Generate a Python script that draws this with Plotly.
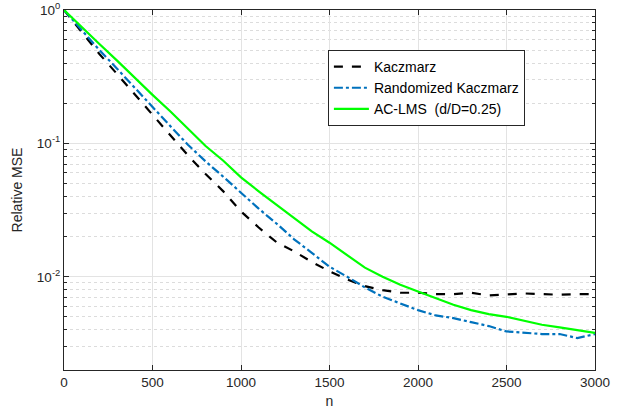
import plotly.graph_objects as go

n = [0, 100, 200, 300, 400, 500, 600, 700, 800, 900, 1000, 1100, 1200, 1300, 1400,
     1500, 1600, 1700, 1800, 1900, 2000, 2100, 2200, 2300, 2400, 2500, 2600, 2700,
     2800, 2900, 3000]

kaczmarz = [1.0, 0.684, 0.468, 0.331, 0.232, 0.163, 0.115, 0.0813, 0.0589, 0.0437,
            0.0309, 0.0234, 0.0182, 0.0155, 0.0129, 0.0110, 0.00955, 0.00851, 0.00794,
            0.00759, 0.00759, 0.00741, 0.00741, 0.00759, 0.00724, 0.00733, 0.00750,
            0.00741, 0.00733, 0.00741, 0.00741]

randomized = [1.0, 0.708, 0.501, 0.363, 0.260, 0.187, 0.135, 0.0977, 0.0733, 0.0562,
              0.0427, 0.0324, 0.0251, 0.0191, 0.0151, 0.0119, 0.0100, 0.00832, 0.00708,
              0.00631, 0.00562, 0.00513, 0.00490, 0.00457, 0.00427, 0.00389, 0.00380,
              0.00372, 0.00372, 0.00347, 0.00372]

aclms = [1.0, 0.741, 0.556, 0.417, 0.309, 0.231, 0.174, 0.129, 0.0955, 0.0741, 0.0556,
         0.0437, 0.0347, 0.0272, 0.0219, 0.0180, 0.0145, 0.0117, 0.0100, 0.0087,
         0.00776, 0.00692, 0.00617, 0.00562, 0.00525, 0.00501, 0.00468, 0.00437,
         0.00417, 0.00398, 0.00380]

x_ticks = [0, 500, 1000, 1500, 2000, 2500, 3000]
y_ticks = [1, 0.1, 0.01]
y_tick_text = ["10<sup>0</sup>", "10<sup>-1</sup>", "10<sup>-2</sup>"]
y_minor = [m * 10 ** e for e in (-3, -2, -1) for m in range(2, 10)]

FONT = "Liberation Sans, Arial, sans-serif"

fig = go.Figure()
fig.add_trace(go.Scatter(x=n, y=kaczmarz, mode="lines", name="Kaczmarz",
                         line=dict(color="black", width=2.2, dash="dash")))
fig.add_trace(go.Scatter(x=n, y=randomized, mode="lines", name="Randomized Kaczmarz",
                         line=dict(color="#0072BD", width=2.2, dash="dashdot")))
fig.add_trace(go.Scatter(x=n, y=aclms, mode="lines", name="AC-LMS\u00a0\u00a0(d/D=0.25)",
                         line=dict(color="#00FF00", width=2.2)))

axis_common = dict(showline=True, linecolor="#262626", linewidth=1, mirror="ticks",
                   ticks="inside", tickcolor="#262626", ticklen=5, zeroline=False,
                   automargin=False,
                   tickfont=dict(family=FONT, size=13.5, color="#262626"),
                   gridcolor="#e3e3e3", gridwidth=1)

fig.update_xaxes(range=[0, 3000], tickvals=x_ticks,
                 title=dict(text="n", font=dict(family=FONT, size=14, color="#262626"), standoff=6),
                 **axis_common)
fig.update_yaxes(type="log", range=[-2.699, 0], tickvals=y_ticks, ticktext=y_tick_text,
                 title=dict(text="Relative MSE", font=dict(family=FONT, size=14, color="#262626"), standoff=10),
                 minor=dict(tickvals=y_minor, ticks="inside", ticklen=3, tickcolor="#262626",
                            showgrid=True, gridcolor="#dcdcdc", griddash="dot", gridwidth=1),
                 **axis_common)

fig.update_layout(
    width=624, height=413,
    margin=dict(l=64, r=29, t=10, b=43),
    paper_bgcolor="white", plot_bgcolor="white",
    font=dict(family=FONT, size=12, color="black"),
    legend=dict(x=0.497, y=0.889, xanchor="left", yanchor="top",
                bgcolor="white", bordercolor="#262626", borderwidth=1,
                font=dict(family=FONT, size=14, color="black"),
                tracegroupgap=0, itemwidth=35),
    showlegend=True,
)

fig.write_html("out.html", config={"displayModeBar": False},
               post_script="document.body.style.margin='0';document.body.style.padding='0';")
